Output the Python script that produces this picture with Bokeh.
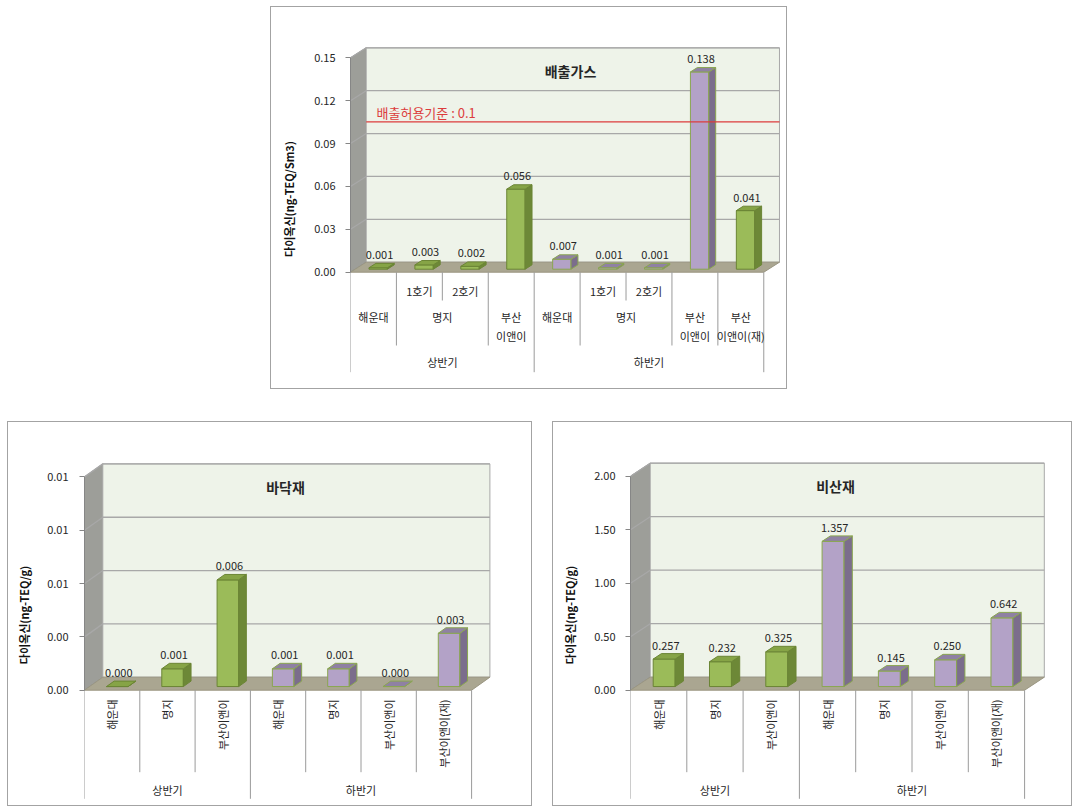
import math

from bokeh.core.properties import value
from bokeh.embed import file_html
from bokeh.layouts import column, row
from bokeh.models import FixedTicker, Range1d, Spacer
from bokeh.plotting import figure
from bokeh.resources import INLINE

FONT = "Noto Sans CJK KR"
TEXT = "#262626"

# ---------------- 배출가스 (flue gas) ----------------
gas_half = ["상반기", "상반기", "상반기", "상반기", "하반기", "하반기", "하반기", "하반기", "하반기"]
gas_site = ["해운대", "명지", "명지", "부산 이앤이", "해운대", "명지", "명지", "부산 이앤이", "부산 이앤이(재)"]
gas_unit = ["", "1호기", "2호기", "", "", "1호기", "2호기", "", ""]
gas_values = [0.001, 0.003, 0.002, 0.056, 0.007, 0.001, 0.001, 0.138, 0.041]
gas_series = ["a", "a", "a", "a", "b", "b", "b", "b", "a"]
gas_ticks = [0.0, 0.03, 0.06, 0.09, 0.12, 0.15]
gas_tick_labels = ["0.00", "0.03", "0.06", "0.09", "0.12", "0.15"]
gas_limit = 0.1
gas_limit_label = "배출허용기준 : 0.1"

# ---------------- 바닥재 (bottom ash) ----------------
ash_half = ["상반기", "상반기", "상반기", "하반기", "하반기", "하반기", "하반기"]
ash_site = ["해운대", "명지", "부산이앤이", "해운대", "명지", "부산이앤이", "부산이앤이(재)"]
ash_values = [0.000, 0.001, 0.006, 0.001, 0.001, 0.000, 0.003]
ash_series = ["a", "a", "a", "b", "b", "b", "b"]
ash_ticks = [0.0, 0.003, 0.006, 0.009, 0.012]
ash_tick_labels = ["0.00", "0.00", "0.01", "0.01", "0.01"]

# ---------------- 비산재 (fly ash) ----------------
fly_half = ["상반기", "상반기", "상반기", "하반기", "하반기", "하반기", "하반기"]
fly_site = ["해운대", "명지", "부산이앤이", "해운대", "명지", "부산이앤이", "부산이앤이(재)"]
fly_values = [0.257, 0.232, 0.325, 1.357, 0.145, 0.250, 0.642]
fly_series = ["a", "a", "a", "b", "b", "b", "b"]
fly_ticks = [0.0, 0.5, 1.0, 1.5, 2.0]
fly_tick_labels = ["0.00", "0.50", "1.00", "1.50", "2.00"]

SERIES_STYLE = {
    "a": dict(front="#9bbb59", side="#6d8837", top="#86a446", line="#6b8535"),
    "b": dict(front="#b3a2c7", side="#7b6d8c", top="#8f81a3", line="#8aa650"),
}
WALL_LEFT = "#9d9e99"
WALL_BACK = "#eef3e9"
FLOOR = "#aaa691"
GRID = "#a8a8a8"
SEP = "#9a9a9a"
AXIS = "#868686"


def runs(keys):
    out, start = [], 0
    for i in range(1, len(keys) + 1):
        if i == len(keys) or keys[i] != keys[start]:
            out.append((start, i, keys[start]))
            start = i
    return out


def build_chart(title, y_label, values, series, levels, ticks, tick_labels, geo,
                limit=None, limit_label=None):
    n = len(values)
    ymax = ticks[-1]
    cw = geo["cat_px"]
    k = geo["val_px"] / ymax
    fw = geo["width"] - geo["left"] - geo["right"]
    fh = geo["height"] - geo["top"] - geo["bottom"]
    zero = geo["zero"]

    p = figure(width=geo["width"], height=geo["height"],
               x_range=Range1d(0, fw / cw), y_range=Range1d(-(fh - zero) / k, zero / k),
               min_border_left=geo["left"], min_border_right=geo["right"],
               min_border_top=geo["top"], min_border_bottom=geo["bottom"],
               x_axis_location=None, tools="", toolbar_location=None,
               output_backend="svg")
    p.grid.grid_line_color = None
    p.outline_line_color = None
    p.background_fill_color = "white"
    p.border_fill_color = "white"
    p.styles = {"border": "1px solid #a3a3a3"}

    ddx = geo["depth"][0] / cw
    ddy = geo["depth"][1] / k

    # walls and floor
    p.patches(xs=[[0, 0, ddx, ddx], [ddx, ddx, n + ddx, n + ddx], [0, n, n + ddx, ddx]],
              ys=[[0, ymax, ymax + ddy, ddy], [ddy, ymax + ddy, ymax + ddy, ddy], [0, 0, ddy, ddy]],
              fill_color=[WALL_LEFT, WALL_BACK, FLOOR],
              line_color=["#8e8f8a", "#a8a8a8", "#9a9682"], line_width=1)

    # gridlines on back wall and left wall
    gx, gy = [], []
    for t in ticks[1:]:
        gx.append([0, ddx, n + ddx])
        gy.append([t, t + ddy, t + ddy])
    p.multi_line(xs=gx, ys=gy, line_color=GRID, line_width=1.3)

    # bars
    bw = geo["bar_w"]
    f0, f1 = geo["bar_depth"]
    ex, ey = (f1 - f0) * ddx, (f1 - f0) * ddy
    fl, fr, fb, ft, fc, lc = [], [], [], [], [], []
    pxs, pys, pc, plc = [], [], [], []
    lx, ly, lt = [], [], []
    for i, (v, s) in enumerate(zip(values, series)):
        st = SERIES_STYLE[s]
        x0 = i + 0.5 - bw / 2 + f0 * ddx
        x1 = x0 + bw
        y0 = f0 * ddy
        y1 = v + f0 * ddy
        fl.append(x0); fr.append(x1); fb.append(y0); ft.append(y1)
        fc.append(st["front"]); lc.append(st["line"])
        pxs.append([x1, x1, x1 + ex, x1 + ex]); pys.append([y0, y1, y1 + ey, y0 + ey])
        pc.append(st["side"]); plc.append(st["line"])
        pxs.append([x0, x1, x1 + ex, x0 + ex]); pys.append([y1, y1, y1 + ey, y1 + ey])
        pc.append(st["top"]); plc.append(st["line"])
        lx.append((x0 + x1) / 2 + ex * 0.2)
        ly.append(y1 + ey + geo["value_gap"] / k)
        lt.append(f"{v:.3f}")
    p.quad(left=fl, right=fr, bottom=fb, top=ft, fill_color=fc, line_color=lc, line_width=1)
    p.patches(xs=pxs, ys=pys, fill_color=pc, line_color=plc, line_width=1)
    p.text(x=lx, y=ly, text=lt, text_font=value(FONT), text_font_size="11px",
           text_color=TEXT, text_align="center", text_baseline="middle")

    # permitted emission limit
    if limit is not None:
        yl = limit + f1 * ddy
        p.segment(x0=[ddx], y0=[yl], x1=[n + ddx], y1=[yl], line_color="#dc3c3c", line_width=1.3)
        p.text(x=[geo["limit_dx"] / cw], y=[yl + geo["limit_dy"] / k], text=[limit_label],
               text_font=value(FONT), text_font_size="13px", text_color="#dc3c3c",
               text_align="left", text_baseline="middle")

    # chart title inside the wall
    p.text(x=[geo["title"][0] / cw], y=[geo["title"][1] / k], text=[title],
           text_font=value(FONT), text_font_size="14px", text_font_style="bold",
           text_color=TEXT, text_align="center", text_baseline="middle")

    # hierarchical category table below the floor
    rows = geo["rows"]
    keys = [[tuple(lv[i] for lv in levels[:L + 1]) for i in range(n)] for L in range(len(levels))]
    sx, sy = [], []
    for b in range(n + 1):
        depth = rows[0]["sep"]
        if 0 < b < n:
            for L in range(len(levels)):
                if keys[L][b] != keys[L][b - 1]:
                    depth = rows[L]["sep"]
                    break
        sx.append([b, b]); sy.append([0, -depth / k])
    p.multi_line(xs=sx, ys=sy, line_color=SEP, line_width=1)

    tx, ty, tt = [], [], []
    rx, ry, rt = [], [], []
    for L, cfg in enumerate(rows):
        for s, e, key in runs(keys[L]):
            label = key[-1]
            if not label:
                continue
            xc = (s + e) / 2
            if cfg.get("rotate"):
                rx.append(xc); ry.append(-cfg["y"] / k); rt.append(label)
            else:
                for j, line in enumerate(label.split(" ")):
                    tx.append(xc); ty.append(-(cfg["y"] + j * cfg.get("gap", 0)) / k); tt.append(line)
    p.text(x=tx, y=ty, text=tt, text_font=value(FONT), text_font_size="11px",
           text_color=TEXT, text_align="center", text_baseline="middle")
    if rt:
        p.text(x=rx, y=ry, text=rt, angle=math.pi / 2, text_font=value(FONT),
               text_font_size="11px", text_color=TEXT, text_align="right",
               text_baseline="middle")

    # value axis
    ax = p.yaxis[0]
    ax.ticker = FixedTicker(ticks=ticks)
    ax.major_label_overrides = {t: lab for t, lab in zip(ticks, tick_labels)}
    ax.bounds = (ticks[0], ticks[-1])
    ax.axis_label = y_label
    ax.axis_label_text_font = FONT
    ax.axis_label_text_font_size = "11px"
    ax.axis_label_text_font_style = "bold"
    ax.axis_label_text_color = "#111111"
    ax.axis_label_standoff = geo["label_standoff"]
    ax.major_label_standoff = geo["tick_standoff"]
    ax.major_label_text_font = FONT
    ax.major_label_text_font_size = "11px"
    ax.major_label_text_color = TEXT
    ax.major_tick_in = 0
    ax.major_tick_out = 5
    ax.minor_tick_line_color = None
    ax.axis_line_color = AXIS
    ax.major_tick_line_color = AXIS
    return p


gas_geo = dict(width=517, height=383, left=79, right=4, top=5, bottom=5,
               cat_px=45.92, val_px=214.4, zero=259.7, depth=(15.7, 10.0),
               bar_w=0.40, bar_depth=(0.30, 0.74), value_gap=8.5,
               title=(220, 201.7), limit_dx=26, limit_dy=9.5,
               tick_standoff=10, label_standoff=14,
               rows=[dict(y=90, sep=100), dict(y=45, sep=73.3, gap=18.3), dict(y=18.3, sep=28.3)])

ash_geo = dict(width=525, height=385, left=76, right=38, top=5, bottom=5,
               cat_px=55.3, val_px=213.3, zero=262.7, depth=(18.3, 13.0),
               bar_w=0.39, bar_depth=(0.28, 0.70), value_gap=8.0,
               title=(201, 203), tick_standoff=11, label_standoff=12,
               rows=[dict(y=99.3, sep=108.6), dict(y=9.3, sep=82, rotate=True)])

fly_geo = dict(width=520, height=385, left=77, right=24, top=5, bottom=5,
               cat_px=56.3, val_px=214.0, zero=262.7, depth=(19.7, 13.0),
               bar_w=0.39, bar_depth=(0.28, 0.70), value_gap=8.0,
               title=(205, 204), tick_standoff=10, label_standoff=13,
               rows=[dict(y=99.3, sep=108.6), dict(y=9.3, sep=82, rotate=True)])

p_gas = build_chart("배출가스", "다이옥신(ng-TEQ/Sm3)", gas_values, gas_series,
                    [gas_half, gas_site, gas_unit], gas_ticks, gas_tick_labels, gas_geo,
                    limit=gas_limit, limit_label=gas_limit_label)
p_ash = build_chart("바닥재", "다이옥신(ng-TEQ/g)", ash_values, ash_series,
                    [ash_half, ash_site], ash_ticks, ash_tick_labels, ash_geo)
p_fly = build_chart("비산재", "다이옥신(ng-TEQ/g)", fly_values, fly_series,
                    [fly_half, fly_site], fly_ticks, fly_tick_labels, fly_geo)

page = column(
    Spacer(height=6),
    row(Spacer(width=270), p_gas),
    Spacer(height=32),
    row(Spacer(width=7), p_ash, Spacer(width=20), p_fly),
)

open("out.html", "w").write(file_html(page, INLINE))
